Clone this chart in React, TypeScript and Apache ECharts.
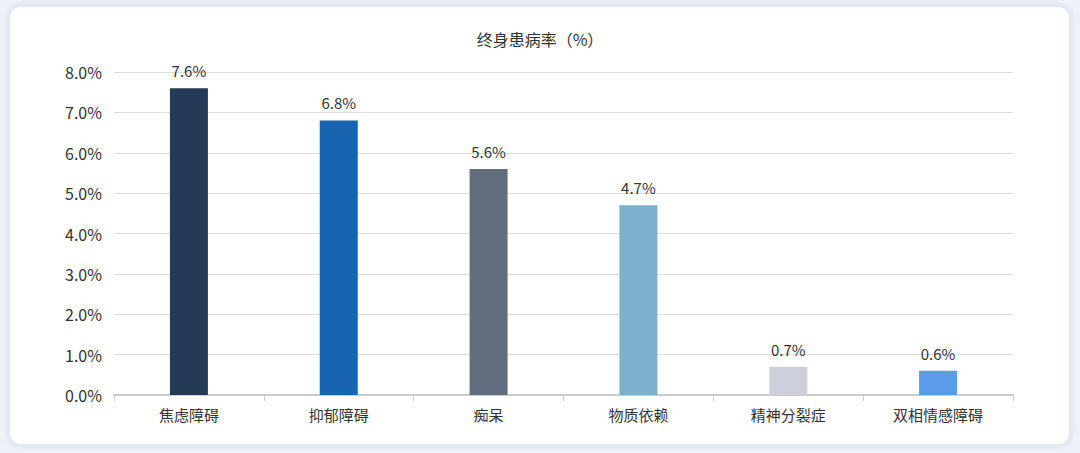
import React, { useEffect, useRef } from "react";
import * as echarts from "echarts";

const categories = ["焦虑障碍", "抑郁障碍", "痴呆", "物质依赖", "精神分裂症", "双相情感障碍"];
const values = [7.6, 6.8, 5.6, 4.7, 0.7, 0.6];
const colors = ["#243a56", "#1763b0", "#626d7e", "#7bb1cc", "#cdd0dc", "#5b9bea"];
const titleText = "终身患病率（%）";

export default function App() {
  const ref = useRef<HTMLDivElement>(null);
  useEffect(() => {
    if (!ref.current) return;
    const chart = echarts.init(ref.current, undefined, { renderer: "svg" });
    const font = "'Noto Sans CJK SC', 'Noto Sans', sans-serif";
    chart.setOption({
      animation: false,
      backgroundColor: "#eef2f8",
      textStyle: { fontFamily: font },
      graphic: [
        {
          type: "rect",
          shape: { x: 9, y: 6, width: 1061, height: 439, r: 12 },
          style: {
            fill: "#ffffff",
            stroke: "#e3e9f3",
            lineWidth: 2,
            shadowBlur: 6,
            shadowColor: "rgba(160,180,210,0.35)",
          },
          z: -10,
        },
      ],
      title: {
        text: titleText,
        left: "center",
        top: 26,
        textStyle: { fontSize: 16, fontWeight: "normal", color: "#333", fontFamily: font },
      },
      grid: { left: 114, right: 67, top: 72, bottom: 58 },
      xAxis: {
        type: "category",
        data: categories,
        axisLine: { lineStyle: { color: "#cccccc", width: 2 } },
        axisTick: { show: true, length: 6, lineStyle: { color: "#cccccc" } },
        axisLabel: { color: "#333", fontSize: 15, margin: 12, fontFamily: font },
      },
      yAxis: {
        type: "value",
        min: 0,
        max: 8,
        interval: 1,
        axisLine: { show: false },
        axisTick: { show: false },
        axisLabel: {
          color: "#333",
          fontSize: 16,
          margin: 12,
          fontFamily: font,
          formatter: (v: number) => v.toFixed(1) + "%",
        },
        splitLine: { lineStyle: { color: "#dddddd", width: 1 } },
      },
      series: [
        {
          type: "bar",
          barWidth: 38,
          data: values.map((v, i) => ({ value: v, itemStyle: { color: colors[i] } })),
          label: {
            show: true,
            position: "top",
            distance: 10,
            color: "#333",
            fontSize: 15,
            fontFamily: font,
            formatter: (p: any) => p.value.toFixed(1) + "%",
          },
        },
      ],
    });
    return () => chart.dispose();
  }, []);
  return (
    <div style={{ position: "fixed", left: 0, top: 0, width: 1080, height: 453 }}>
      <div ref={ref} style={{ width: 1080, height: 453 }} />
    </div>
  );
}
